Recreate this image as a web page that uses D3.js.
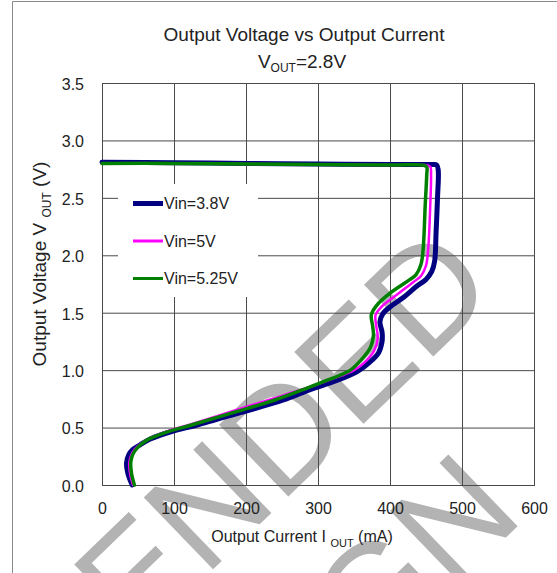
<!DOCTYPE html>
<html>
<head>
<meta charset="utf-8">
<script src="https://cdn.jsdelivr.net/npm/d3@7"></script>
<style>
  body { margin: 0; background: #fff; }
  text { font-family: "Liberation Sans", Arial, sans-serif; fill: #222; }
</style>
</head>
<body>
<svg width="557" height="573"></svg>
<script>
// data: [current mA, voltage V]
var vin38 = [[0,2.81],[100,2.805],[200,2.80],[300,2.795],[400,2.79],[458,2.79],[465,2.785],[467,2.74],[466,2.50],[464,2.20],[462,1.95],[458,1.86],[450,1.79],[437,1.73],[418,1.63],[400,1.55],[390,1.49],[386,1.42],[389,1.33],[389,1.25],[384,1.15],[372,1.07],[355,0.99],[326,0.91],[289,0.83],[252,0.74],[192,0.63],[131,0.52],[99,0.47],[67,0.40],[53,0.35],[43,0.31],[37,0.26],[34,0.19],[36,0.10],[42,0.0]];
var vin5 = [[0,2.80],[100,2.80],[200,2.795],[300,2.79],[400,2.785],[450,2.785],[456,2.77],[457,2.70],[456,2.45],[453,2.05],[450,1.91],[443,1.82],[433,1.77],[408,1.65],[388,1.55],[380,1.48],[381,1.38],[383,1.28],[378,1.17],[365,1.07],[350,1.00],[318,0.92],[282,0.84],[236,0.75],[180,0.64],[124,0.53],[92,0.47],[64,0.40],[50,0.34],[42,0.28],[38,0.20],[39,0.10],[43,0.0]];
var vin525 = [[0,2.80],[100,2.80],[200,2.795],[300,2.79],[400,2.785],[446,2.785],[451,2.77],[451,2.70],[449,2.45],[446,2.05],[443,1.92],[436,1.83],[428,1.79],[400,1.67],[381,1.56],[374,1.48],[376,1.38],[377,1.30],[373,1.20],[360,1.09],[345,1.00],[312,0.91],[279,0.83],[240,0.74],[182,0.63],[123,0.52],[90,0.46],[62,0.39],[50,0.33],[43,0.27],[40,0.20],[41,0.10],[45,0.0]];

var seriesNames = ["Vin=3.8V", "Vin=5V", "Vin=5.25V"];
var xTicks = [0, 100, 200, 300, 400, 500, 600];
var yTicks = [0, 0.5, 1, 1.5, 2, 2.5, 3, 3.5];
var watermark = ["NOT RECOMMENDED", "FOR NEW DESIGN"];

var svg = d3.select("svg"),
    plot = {left: 102, right: 534, top: 83, bottom: 485};

var x = d3.scaleLinear().domain([0, 600]).range([plot.left, plot.right]),
    y = d3.scaleLinear().domain([0, 3.5]).range([plot.bottom, plot.top]);

// page frame
svg.append("path")
    .attr("d", "M12.5,573V1.5H557")
    .attr("fill", "none")
    .attr("stroke", "#8a8a8a");

// watermark sits under everything
var wm = [[500, 292], [526, 518]];
svg.append("g").selectAll("text")
    .data(watermark)
  .enter().append("text")
    .attr("transform", function(d, i) { return "translate(" + wm[i][0] + "," + wm[i][1] + ") rotate(-44)"; })
    .attr("text-anchor", "end")
    .style("font-size", "145px")
    .style("fill", "#b3b3b3")
    .text(function(d) { return d; });

// grid via axes
var gx = svg.append("g")
    .attr("transform", "translate(0," + plot.bottom + ")")
    .call(d3.axisBottom(x).tickValues(xTicks).tickSize(-(plot.bottom - plot.top)).tickPadding(18).tickFormat(d3.format("d")));
var gy = svg.append("g")
    .attr("transform", "translate(" + plot.left + ",0)")
    .call(d3.axisLeft(y).tickValues(yTicks).tickSize(-(plot.right - plot.left)).tickPadding(18).tickFormat(d3.format(".1f")));

[gx, gy].forEach(function(g) {
  g.select(".domain").remove();
  g.selectAll("line").attr("stroke", "#4a4a4a").attr("stroke-width", 1);
  g.selectAll("text").style("font-size", "16px").attr("fill", "#222");
});
gy.selectAll("text").attr("dy", "0.4em");

svg.append("rect")
    .attr("x", plot.left + 0.5).attr("y", plot.top + 0.5)
    .attr("width", plot.right - plot.left).attr("height", plot.bottom - plot.top)
    .attr("fill", "none").attr("stroke", "#4a4a4a");

// legend box hides the grid behind it
svg.append("rect")
    .attr("x", 118).attr("y", 184)
    .attr("width", 140).attr("height", 113)
    .attr("fill", "#fff");

var colors = ["#000080", "#ff00ff", "#008000"],
    widths = [5, 2.5, 3.5];

var line = d3.line()
    .curve(d3.curveCatmullRom.alpha(0.5))
    .x(function(d) { return x(d[0]); })
    .y(function(d) { return y(d[1]); });

svg.append("g").selectAll("path")
    .data([vin38, vin5, vin525])
  .enter().append("path")
    .attr("d", line)
    .attr("fill", "none")
    .attr("stroke", function(d, i) { return colors[i]; })
    .attr("stroke-width", function(d, i) { return widths[i]; })
    .attr("stroke-linejoin", "round")
    .attr("stroke-linecap", "round");

var leg = svg.append("g").selectAll("g")
    .data(seriesNames)
  .enter().append("g")
    .attr("transform", function(d, i) { return "translate(133," + (203.5 + i * 37.5) + ")"; });
leg.append("line")
    .attr("x1", 0).attr("x2", 30)
    .attr("stroke", function(d, i) { return colors[i]; })
    .attr("stroke-width", function(d, i) { return [5, 3, 3][i]; });
leg.append("text")
    .attr("x", 31).attr("dy", "0.36em")
    .style("font-size", "16px")
    .text(function(d) { return d; });

// titles
svg.append("text")
    .attr("x", 304).attr("y", 41)
    .attr("text-anchor", "middle")
    .style("font-size", "19px")
    .text("Output Voltage vs Output Current");
var t2 = svg.append("text")
    .attr("x", 302).attr("y", 68)
    .attr("text-anchor", "middle")
    .style("font-size", "19px");
t2.append("tspan").text("V");
t2.append("tspan").attr("dy", 4).style("font-size", "12px").text("OUT");
t2.append("tspan").attr("dy", -4).text("=2.8V");

var xt = svg.append("text")
    .attr("x", 302).attr("y", 542)
    .attr("text-anchor", "middle")
    .style("font-size", "16px");
xt.append("tspan").text("Output Current I ");
xt.append("tspan").attr("dy", 5).style("font-size", "11px").text("OUT");
xt.append("tspan").attr("dy", -5).text(" (mA)");

var yt = svg.append("text")
    .attr("transform", "translate(46,264) rotate(-90)")
    .attr("text-anchor", "middle")
    .style("font-size", "19px");
yt.append("tspan").text("Output Voltage V ");
yt.append("tspan").attr("dy", 5).style("font-size", "12px").text("OUT");
yt.append("tspan").attr("dy", -5).text(" (V)");
</script>
</body>
</html>
